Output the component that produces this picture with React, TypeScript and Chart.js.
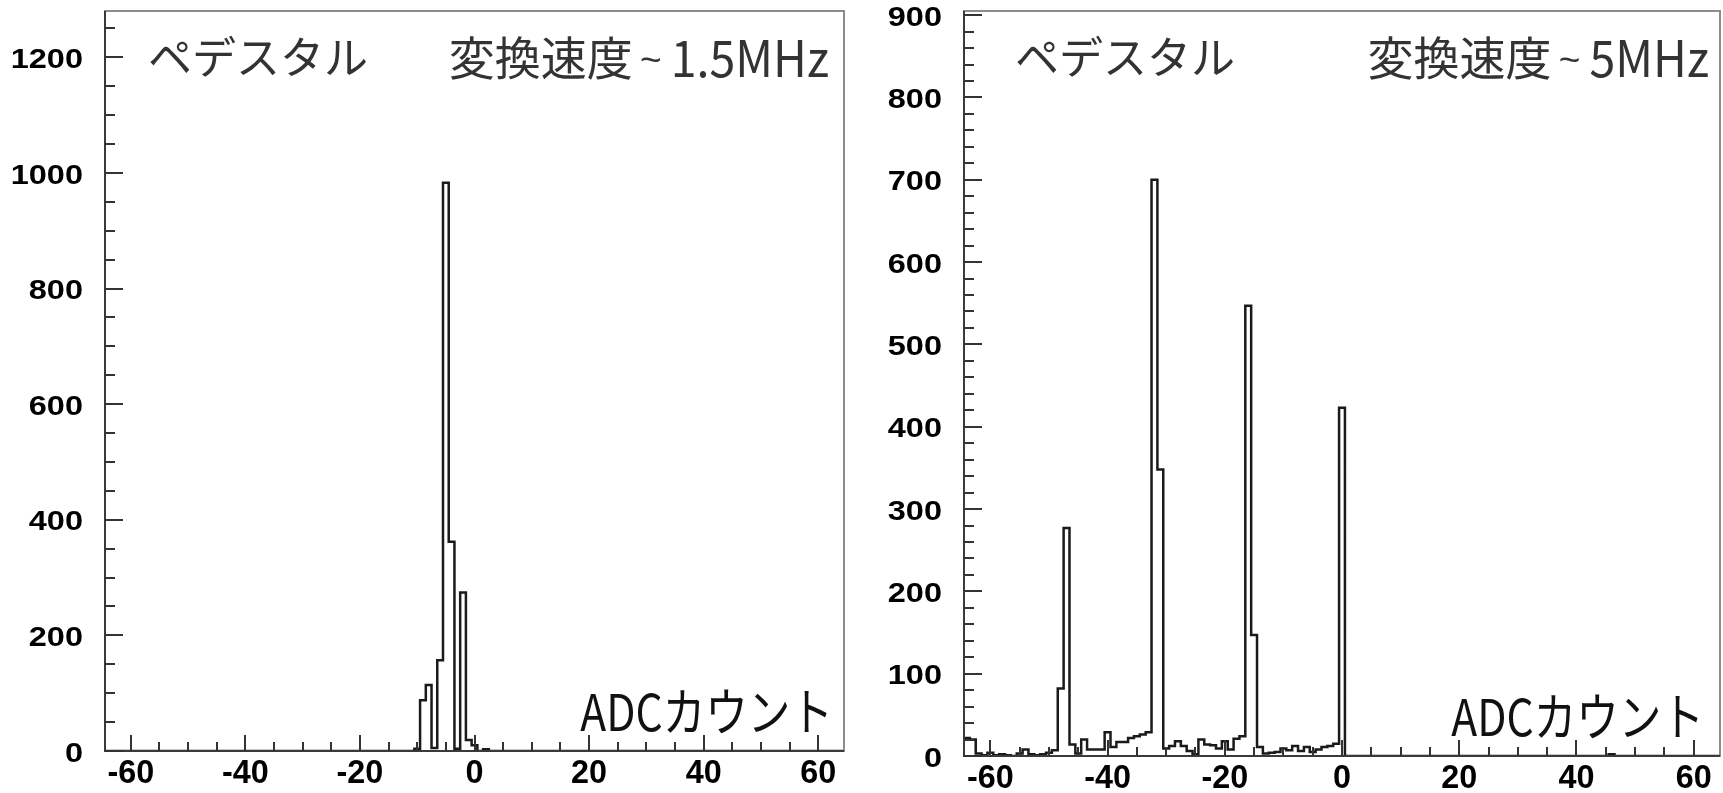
import React, { useEffect, useRef } from "react";
import { Chart, registerables } from "chart.js";

Chart.register(...registerables);

// ---------------- data ----------------
// 1-count-wide bins, centres from -64 to 64
const firstBin = -64;

// pedestal histogram, conversion rate ~1.5 MHz
const leftCounts = [
  // -64 .. -49
  0, 0, 0, 0, 0, 0, 0, 0, 0, 0, 0, 0, 0, 0, 0, 0,
  // -48 .. -33
  0, 0, 0, 0, 0, 0, 0, 0, 0, 0, 0, 0, 0, 0, 0, 0,
  // -32 .. -17
  0, 0, 0, 0, 0, 0, 0, 0, 0, 0, 0, 0, 0, 0, 0, 0,
  // -16 .. -1
  0, 0, 0, 0, 0, 0, 4, 88, 114, 5, 157, 983, 362, 4, 274, 19,
  // 0 .. 15
  10, 0, 3, 0, 0, 0, 0, 0, 0, 0, 0, 0, 0, 0, 0, 0,
  // 16 .. 31
  0, 0, 0, 0, 0, 0, 0, 0, 0, 0, 0, 0, 0, 0, 0, 0,
  // 32 .. 47
  0, 0, 0, 0, 0, 0, 0, 0, 0, 0, 0, 0, 0, 0, 0, 0,
  // 48 .. 63
  0, 0, 0, 0, 0, 0, 0, 0, 0, 0, 0, 0, 0, 0, 0, 0,
  // 64
  0,
];

// pedestal histogram, conversion rate ~5 MHz
const rightCounts = [
  // -64 .. -49
  22, 20, 3, 1, 4, 1, 2, 1, 0, 3, 8, 2, 1, 2, 4, 7,
  // -48 .. -33
  82, 277, 14, 3, 20, 8, 8, 8, 29, 11, 17, 17, 22, 24, 26, 29,
  // -32 .. -17
  700, 348, 9, 12, 18, 12, 6, 2, 20, 14, 13, 9, 18, 8, 21, 24,
  // -16 .. -1
  547, 147, 11, 3, 4, 5, 9, 7, 12, 6, 11, 5, 8, 11, 12, 15,
  // 0 .. 15
  423, 0, 0, 0, 0, 0, 0, 0, 0, 0, 0, 0, 0, 0, 0, 0,
  // 16 .. 31
  0, 0, 0, 0, 0, 0, 0, 0, 0, 0, 0, 0, 0, 0, 0, 0,
  // 32 .. 47
  0, 0, 0, 0, 0, 0, 0, 0, 0, 0, 0, 0, 0, 0, 2, 0,
  // 48 .. 63
  0, 0, 0, 0, 0, 0, 0, 0, 0, 0, 0, 0, 0, 0, 0, 0,
  // 64
  0,
];

const xTickLabels = [-60, -40, -20, 0, 20, 40, 60];
const xMinorStep = 5;
const leftYTickLabels = [0, 200, 400, 600, 800, 1000, 1200];
const leftYMinorStep = 50;
const rightYTickLabels = [0, 100, 200, 300, 400, 500, 600, 700, 800, 900];
const rightYMinorStep = 20;

const titleText = "ペデスタル";
const rateText = "変換速度";
const leftRate = "1.5MHz";
const rightRate = "5MHz";
const unitText = "ADCカウント";

// ---------------- helpers ----------------
type Pad = { left: number; right: number; top: number; bottom: number };
type Panel = {
  counts: number[];
  yMax: number;
  yTicks: number[];
  yMinor: number;
  rate: string;
  padding: Pad;
  titleInset: number;
  rateInset: number;
  unitInset: number;
};

function stepPoints(counts: number[]) {
  const pts: { x: number; y: number }[] = [];
  counts.forEach((c, i) => {
    const centre = firstBin + i;
    pts.push({ x: centre - 0.5, y: c }, { x: centre + 0.5, y: c });
  });
  return pts;
}

function makeDecor(p: Panel) {
  return {
    id: "rootFrame",
    afterDatasetsDraw(chart: any) {
      const { ctx, chartArea: a } = chart;
      const xs = chart.scales.x;
      const ys = chart.scales.y;
      ctx.save();

      // frame
      ctx.lineWidth = 2;
      ctx.strokeStyle = "#8c8c8c";
      ctx.strokeRect(a.left, a.top, a.right - a.left, a.bottom - a.top);
      ctx.strokeStyle = "#3a3a3a";
      ctx.beginPath();
      ctx.moveTo(a.left, a.top);
      ctx.lineTo(a.left, a.bottom);
      ctx.lineTo(a.right, a.bottom);
      ctx.stroke();

      // ticks
      ctx.strokeStyle = "#333";
      ctx.lineWidth = 2;
      ctx.beginPath();
      const x0 = xTickLabels[0];
      const x1 = xTickLabels[xTickLabels.length - 1];
      for (let v = x0; v <= x1; v += xMinorStep) {
        const px = Math.round(xs.getPixelForValue(v));
        const len = xTickLabels.includes(v) ? 16 : 9;
        ctx.moveTo(px, a.bottom);
        ctx.lineTo(px, a.bottom - len);
      }
      for (let v = 0; v <= p.yMax; v += p.yMinor) {
        const py = Math.round(ys.getPixelForValue(v));
        const len = p.yTicks.includes(v) ? 18 : 10;
        ctx.moveTo(a.left, py);
        ctx.lineTo(a.left + len, py);
      }
      ctx.stroke();

      // tick labels
      ctx.fillStyle = "#000";
      ctx.font = 'bold 28px "Liberation Sans", Arial, sans-serif';
      ctx.textAlign = "right";
      ctx.textBaseline = "middle";
      p.yTicks.forEach((v) => {
        ctx.save();
        ctx.translate(a.left - 22, ys.getPixelForValue(v) + 3);
        ctx.scale(1.16, 1);
        ctx.fillText(String(v), 0, 0);
        ctx.restore();
      });
      ctx.font = 'bold 33px "Liberation Sans", Arial, sans-serif';
      ctx.textAlign = "center";
      ctx.textBaseline = "alphabetic";
      xTickLabels.forEach((v) => {
        ctx.save();
        ctx.translate(xs.getPixelForValue(v), a.bottom + 32);
        ctx.scale(0.98, 1);
        ctx.fillText(String(v), 0, 0);
        ctx.restore();
      });

      // annotations
      ctx.fillStyle = "#333";
      ctx.textAlign = "left";
      ctx.font = '44px "Noto Sans CJK JP", sans-serif';
      ctx.fillText(titleText, a.left + p.titleInset, a.top + 63);

      const rx = a.right - p.rateInset;
      ctx.font = '50px "Noto Sans CJK JP", sans-serif';
      const vw = ctx.measureText(p.rate).width * 0.93;
      ctx.save();
      ctx.translate(rx, a.top + 66);
      ctx.scale(0.93, 1);
      ctx.textAlign = "right";
      ctx.fillText(p.rate, 0, 0);
      ctx.restore();
      const tildeX = rx - vw - 20;
      ctx.textAlign = "center";
      ctx.font = '37px "Liberation Sans", Arial, sans-serif';
      ctx.fillText("~", tildeX, a.top + 61);
      ctx.textAlign = "right";
      ctx.font = '46px "Noto Sans CJK JP", sans-serif';
      ctx.fillText(rateText, tildeX - 18, a.top + 64);

      ctx.fillStyle = "#111";
      ctx.font = '51px "Noto Sans CJK JP", sans-serif';
      ctx.save();
      ctx.translate(a.right - p.unitInset, a.bottom - 20);
      ctx.scale(0.835, 1);
      ctx.textAlign = "right";
      ctx.fillText(unitText, 0, 0);
      ctx.restore();

      ctx.restore();
    },
  };
}

function HistPanel({ panel, left, width }: { panel: Panel; left: number; width: number }) {
  const ref = useRef<HTMLCanvasElement>(null);
  useEffect(() => {
    const chart = new Chart(ref.current as HTMLCanvasElement, {
      type: "line",
      data: {
        datasets: [
          {
            data: stepPoints(panel.counts),
            borderColor: "#1a1a1a",
            borderWidth: 2.5,
            pointRadius: 0,
            fill: false,
            tension: 0,
          },
        ],
      },
      options: {
        responsive: false,
        animation: false,
        events: [],
        layout: { padding: panel.padding },
        scales: {
          x: { type: "linear", min: -64.5, max: 64.5, display: false },
          y: { type: "linear", min: 0, max: panel.yMax, display: false },
        },
        plugins: { legend: { display: false }, tooltip: { enabled: false } },
      },
      plugins: [makeDecor(panel)],
    } as any);
    return () => chart.destroy();
  }, [panel]);
  return (
    <canvas
      ref={ref}
      width={width}
      height={793}
      style={{ position: "absolute", left, top: 0, display: "block", width, height: 793 }}
    />
  );
}

const leftPanel: Panel = {
  counts: leftCounts,
  yMax: 1280,
  yTicks: leftYTickLabels,
  yMinor: leftYMinorStep,
  rate: leftRate,
  padding: { left: 105, right: 16, top: 11, bottom: 42 },
  titleInset: 43,
  rateInset: 15,
  unitInset: 11,
};

const rightPanel: Panel = {
  counts: rightCounts,
  yMax: 905,
  yTicks: rightYTickLabels,
  yMinor: rightYMinorStep,
  rate: rightRate,
  padding: { left: 104, right: 3, top: 11, bottom: 37 },
  titleInset: 51,
  rateInset: 11,
  unitInset: 16,
};

export default function App() {
  return (
    <div style={{ position: "absolute", left: 0, top: 0, width: 1723, height: 793, background: "#fff" }}>
      <HistPanel panel={leftPanel} left={0} width={860} />
      <HistPanel panel={rightPanel} left={860} width={863} />
    </div>
  );
}
